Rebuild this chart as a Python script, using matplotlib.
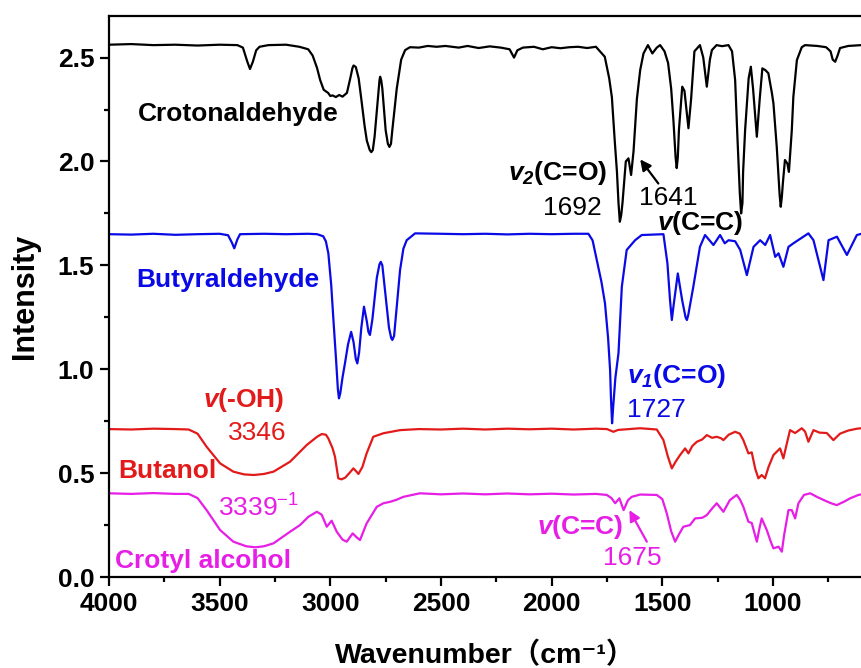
import matplotlib.pyplot as plt

# FTIR spectra, offset vertically (wavenumber in cm-1, intensity)
croton_wn = [4000, 3900, 3800, 3700, 3600, 3500, 3420, 3395, 3375, 3363, 3350, 3335, 3320, 3280,
             3200, 3140, 3100, 3080, 3060, 3046, 3030, 3010, 3000, 2990, 2975, 2960, 2945, 2925,
             2910, 2900, 2895, 2885, 2872, 2860, 2845, 2835, 2822, 2815, 2808, 2800, 2785, 2778,
             2775, 2770, 2765, 2750, 2740, 2733, 2726, 2720, 2700,
             2680, 2662, 2640, 2600, 2560, 2520, 2480, 2420, 2380, 2330, 2280, 2230, 2190, 2170,
             2155, 2130, 2080, 2040, 2000, 1960, 1920, 1880, 1840, 1800, 1790, 1760, 1740, 1728,
             1715, 1705, 1698, 1692, 1686, 1680, 1665, 1653, 1641, 1630, 1615, 1600, 1585, 1565, 1545, 1525,
             1510, 1490, 1474, 1460, 1450, 1440, 1435, 1430, 1425, 1410, 1400, 1382, 1370, 1355, 1330, 1315,
             1299, 1285, 1276, 1255, 1230, 1201, 1185, 1171, 1160, 1150, 1144, 1138, 1135, 1126, 1110, 1100,
             1090, 1073, 1060, 1048, 1035, 1021, 1005, 998, 983, 970, 965, 960, 955, 946, 935, 928, 915,
             908, 892, 870, 855, 800, 760, 740, 730, 719, 708, 697, 660, 600]
croton_int = [2.562, 2.565, 2.560, 2.562, 2.558, 2.562, 2.560, 2.548, 2.48, 2.445, 2.48, 2.535, 2.552, 2.560,
              2.562, 2.552, 2.540, 2.510, 2.45, 2.392, 2.345, 2.330, 2.315, 2.318, 2.310, 2.320, 2.312, 2.330,
              2.40, 2.450, 2.462, 2.455, 2.40, 2.30, 2.17, 2.10, 2.055, 2.045, 2.055, 2.12, 2.30, 2.390,
              2.408, 2.390, 2.35, 2.15, 2.085, 2.070, 2.085, 2.15, 2.35,
              2.49, 2.536, 2.550, 2.548, 2.556, 2.552, 2.556, 2.548, 2.556, 2.546, 2.554, 2.548, 2.540, 2.500,
              2.535, 2.548, 2.552, 2.540, 2.550, 2.545, 2.550, 2.552, 2.546, 2.552, 2.540, 2.504, 2.40, 2.31,
              2.10, 1.95, 1.80, 1.710, 1.74, 1.80, 2.00, 2.015, 1.935, 2.05, 2.30, 2.44, 2.520, 2.560, 2.520, 2.548,
              2.560, 2.530, 2.474, 2.35, 2.20, 2.02, 1.968, 2.02, 2.15, 2.36, 2.34, 2.16, 2.30, 2.530, 2.560, 2.50,
              2.36, 2.49, 2.536, 2.560, 2.555, 2.560, 2.53, 2.392, 2.10, 1.85, 1.750, 1.80, 1.95, 2.15, 2.40, 2.456,
              2.35, 2.119, 2.30, 2.448, 2.44, 2.425, 2.33, 2.28, 2.07, 1.84, 1.782, 1.83, 1.90, 2.007, 1.990, 1.950, 2.15,
              2.311, 2.488, 2.550, 2.560, 2.556, 2.550, 2.530, 2.49, 2.480, 2.51, 2.546, 2.556, 2.560]

butyr_wn = [4000, 3900, 3800, 3700, 3600, 3500, 3462, 3445, 3434, 3420, 3408, 3300, 3200, 3100,
            3060, 3032, 3020, 3009, 2996, 2986, 2974, 2966, 2961, 2955, 2945, 2934, 2920, 2906, 2895,
            2885, 2878, 2870, 2860, 2848, 2835, 2828, 2821, 2810, 2790, 2778, 2772, 2765, 2750,
            2735, 2725, 2720, 2712, 2700, 2685, 2670, 2655,
            2617, 2500, 2400, 2300, 2200, 2100, 2000, 1900, 1834, 1815, 1796, 1775, 1759, 1745, 1736,
            1732, 1727, 1722, 1712, 1698,
            1683, 1661, 1623, 1593, 1495, 1477, 1465, 1457, 1450, 1430, 1410, 1395, 1389, 1383, 1360, 1330, 1307, 1269, 1239,
            1218, 1201, 1171, 1148, 1118, 1088, 1058, 1035, 1013, 990, 975, 953, 930, 908, 840,
            817, 772, 749, 711, 666, 621, 600]
butyr_int = [1.650, 1.648, 1.652, 1.647, 1.650, 1.652, 1.645, 1.610, 1.582, 1.625, 1.650, 1.652, 1.650, 1.652,
             1.650, 1.640, 1.615, 1.558, 1.405, 1.237, 1.044, 0.905, 0.860, 0.885, 0.960, 1.028, 1.120, 1.180, 1.130,
             1.050, 1.028, 1.080, 1.200, 1.301, 1.230, 1.180, 1.165, 1.240, 1.440, 1.505, 1.517, 1.500, 1.350,
             1.200, 1.150, 1.141, 1.160, 1.300, 1.477, 1.580, 1.621,
             1.654, 1.652, 1.650, 1.652, 1.649, 1.652, 1.650, 1.652, 1.652, 1.620, 1.525, 1.420, 1.317, 1.150, 0.996,
             0.860, 0.740, 0.820, 0.960, 1.078,
             1.397, 1.574, 1.621, 1.646, 1.650, 1.510, 1.330, 1.237, 1.300, 1.461, 1.330, 1.250, 1.237, 1.260, 1.397, 1.589, 1.646, 1.598, 1.646,
             1.606, 1.621, 1.616, 1.574, 1.453, 1.589, 1.621, 1.598, 1.646, 1.541, 1.558, 1.493, 1.589, 1.606, 1.654,
             1.621, 1.429, 1.621, 1.638, 1.550, 1.646, 1.652]

butanol_wn = [4000, 3900, 3800, 3700, 3640, 3600, 3559, 3498, 3438, 3390, 3346, 3300, 3257, 3182,
              3107, 3060, 3039, 3020, 3009, 2990, 2979, 2964, 2950, 2933, 2910, 2896, 2880, 2873,
              2855, 2836, 2806, 2760, 2685, 2600, 2500, 2400, 2300, 2200, 2100, 2000, 1900, 1800,
              1750, 1721, 1700, 1650, 1600, 1550, 1525, 1495, 1475, 1457, 1440, 1420, 1397, 1382,
              1365, 1344, 1320, 1299, 1275, 1254, 1235, 1224, 1200, 1171, 1150, 1134, 1111, 1096,
              1080, 1066, 1051, 1036, 1020, 998, 968, 953, 938, 923, 900, 870, 855, 840, 817, 790,
              757, 727, 697, 660, 620, 600]
butanol_int = [0.712, 0.710, 0.714, 0.712, 0.710, 0.690, 0.627, 0.547, 0.507, 0.494, 0.491, 0.496, 0.507, 0.555,
               0.635, 0.675, 0.688, 0.685, 0.667, 0.62, 0.579, 0.475, 0.470, 0.478, 0.505, 0.523, 0.505, 0.496,
               0.53, 0.595, 0.675, 0.692, 0.707, 0.712, 0.710, 0.714, 0.710, 0.714, 0.711, 0.714, 0.710, 0.714,
               0.712, 0.699, 0.708, 0.712, 0.716, 0.712, 0.710, 0.659, 0.58, 0.523, 0.555, 0.587, 0.619, 0.595,
               0.630, 0.651, 0.662, 0.683, 0.670, 0.675, 0.668, 0.659, 0.685, 0.699, 0.690, 0.659, 0.595, 0.600,
               0.52, 0.475, 0.491, 0.475, 0.53, 0.587, 0.619, 0.571, 0.640, 0.707, 0.693, 0.716, 0.700, 0.651, 0.707, 0.695,
               0.693, 0.659, 0.690, 0.705, 0.714, 0.716]

crotyl_wn = [4000, 3900, 3800, 3700, 3640, 3600, 3559, 3498, 3438, 3380, 3339, 3300, 3257, 3182,
             3137, 3099, 3061, 3039, 3016, 2994, 2971, 2945, 2926, 2899, 2880, 2866, 2836, 2790,
             2760, 2730, 2700, 2670, 2595, 2500, 2400, 2300, 2200, 2100, 2000, 1900, 1800, 1751,
             1730, 1713, 1694, 1675, 1655, 1638, 1600, 1525, 1500, 1480, 1460, 1442, 1425, 1405,
             1375, 1352, 1320, 1299, 1275, 1254, 1224, 1195, 1164, 1150, 1134, 1111, 1096, 1073,
             1060, 1051, 1028, 1010, 998, 975, 960, 950, 930, 915, 900, 885, 860, 832, 800, 772,
             740, 712, 680, 651, 614, 600]
crotyl_int = [0.403, 0.400, 0.404, 0.400, 0.400, 0.380, 0.322, 0.226, 0.170, 0.148, 0.143, 0.148, 0.162, 0.218,
              0.250, 0.290, 0.314, 0.300, 0.242, 0.271, 0.218, 0.180, 0.170, 0.210, 0.190, 0.178, 0.258, 0.338,
              0.355, 0.362, 0.372, 0.386, 0.403, 0.398, 0.402, 0.398, 0.402, 0.398, 0.401, 0.397, 0.400, 0.395,
              0.380, 0.355, 0.379, 0.322, 0.370, 0.386, 0.397, 0.395, 0.375, 0.307, 0.22, 0.170, 0.205, 0.242,
              0.250, 0.282, 0.285, 0.298, 0.330, 0.355, 0.314, 0.370, 0.395, 0.375, 0.338, 0.266, 0.260, 0.170,
              0.240, 0.282, 0.226, 0.170, 0.138, 0.146, 0.122, 0.20, 0.322, 0.322, 0.282, 0.355, 0.395, 0.403, 0.385, 0.371,
              0.356, 0.346, 0.362, 0.379, 0.395, 0.398]

black = 'black'
blue = '#0a0ae6'
red = '#e31a1a'
magenta = '#e61ee6'

plt.rcParams['font.family'] = ['Liberation Sans', 'DejaVu Sans', 'Noto Sans CJK SC']
plt.rcParams['mathtext.fontset'] = 'custom'
plt.rcParams['mathtext.rm'] = 'Liberation Sans'
plt.rcParams['mathtext.bf'] = 'Liberation Sans:bold'
plt.rcParams['mathtext.it'] = 'Liberation Sans:italic'
plt.rcParams['mathtext.bfit'] = 'Liberation Sans:italic:bold'

fig = plt.figure(figsize=(8.61, 6.68), dpi=100)
ax = fig.add_axes([0.1266, 0.1362, 0.8740, 0.8398])

ax.plot(croton_wn, croton_int, color=black, lw=1.6)
ax.plot(butyr_wn, butyr_int, color=blue, lw=1.6)
ax.plot(butanol_wn, butanol_int, color=red, lw=1.6)
ax.plot(crotyl_wn, crotyl_int, color=magenta, lw=1.6)

ax.set_xlim(4000, 600)
ax.set_ylim(0, 2.7)
ax.set_xticks([4000, 3500, 3000, 2500, 2000, 1500, 1000])
ax.set_xticks([3750, 3250, 2750, 2250, 1750, 1250, 750], minor=True)
ax.set_yticks([0.0, 0.5, 1.0, 1.5, 2.0, 2.5])
ax.set_yticks([0.25, 0.75, 1.25, 1.75, 2.25], minor=True)
ax.set_yticklabels(['0.0', '0.5', '1.0', '1.5', '2.0', '2.5'])

for s in ['left', 'bottom', 'top']:
    ax.spines[s].set_linewidth(1.6)
ax.spines['right'].set_visible(False)
ax.tick_params(which='major', direction='out', length=6.5, width=1.6, labelsize=19, pad=4)
ax.tick_params(which='minor', direction='out', length=3.5, width=1.6)
for lab in ax.get_xticklabels() + ax.get_yticklabels():
    lab.set_fontweight('bold')

# full-width brackets come from the CJK font, superscript from DejaVu
ax.set_xlabel('Wavenumber（cm⁻¹）', fontsize=20.5, fontweight='bold', labelpad=19)
ax.set_ylabel('Intensity', fontsize=22, fontweight='bold', labelpad=13)

# sample names
ax.text(3869, 2.194, 'Crotonaldehyde', color=black, fontsize=19, fontweight='bold')
ax.text(3878, 1.395, 'Butyraldehyde', color=blue, fontsize=19, fontweight='bold')
ax.text(3959, 0.475, 'Butanol', color=red, fontsize=19, fontweight='bold')
ax.text(3973, 0.042, 'Crotyl alcohol', color=magenta, fontsize=19, fontweight='bold')

# band assignments
ax.text(3575, 0.82, r'$\mathbfit{v}$(-OH)', color=red, fontsize=19, fontweight='bold')
ax.text(3462, 0.659, '3346', color=red, fontsize=19)
ax.text(3507, 0.290, '3339$^{-1}$', color=magenta, fontsize=19)

ax.text(2195, 1.910, r'$\mathbfit{v}_{\mathbfit{2}}$(C=O)', color=black, fontsize=19, fontweight='bold')
ax.text(2040, 1.742, '1692', color=black, fontsize=19)
ax.text(1604, 1.790, '1641', color=black, fontsize=19)
ax.text(1525, 1.668, r'$\mathbfit{v}$(C=C)', color=black, fontsize=19, fontweight='bold')
ax.annotate('', xy=(1600, 2.010), xytext=(1518, 1.894),
            arrowprops=dict(arrowstyle='-|>', color=black, lw=1.6, mutation_scale=16, shrinkA=0, shrinkB=0))

ax.text(1661, 0.932, r'$\mathbfit{v}_{\mathbfit{1}}$(C=O)', color=blue, fontsize=19, fontweight='bold')
ax.text(1661, 0.771, '1727', color=blue, fontsize=19)

ax.text(2065, 0.207, r'$\mathbfit{v}$(C=C)', color=magenta, fontsize=19, fontweight='bold')
ax.text(1766, 0.058, '1675', color=magenta, fontsize=19)
ax.annotate('', xy=(1649, 0.322), xytext=(1570, 0.170),
            arrowprops=dict(arrowstyle='-|>', color=magenta, lw=1.6, mutation_scale=16, shrinkA=0, shrinkB=0))

fig.savefig('out.png', dpi=100)
